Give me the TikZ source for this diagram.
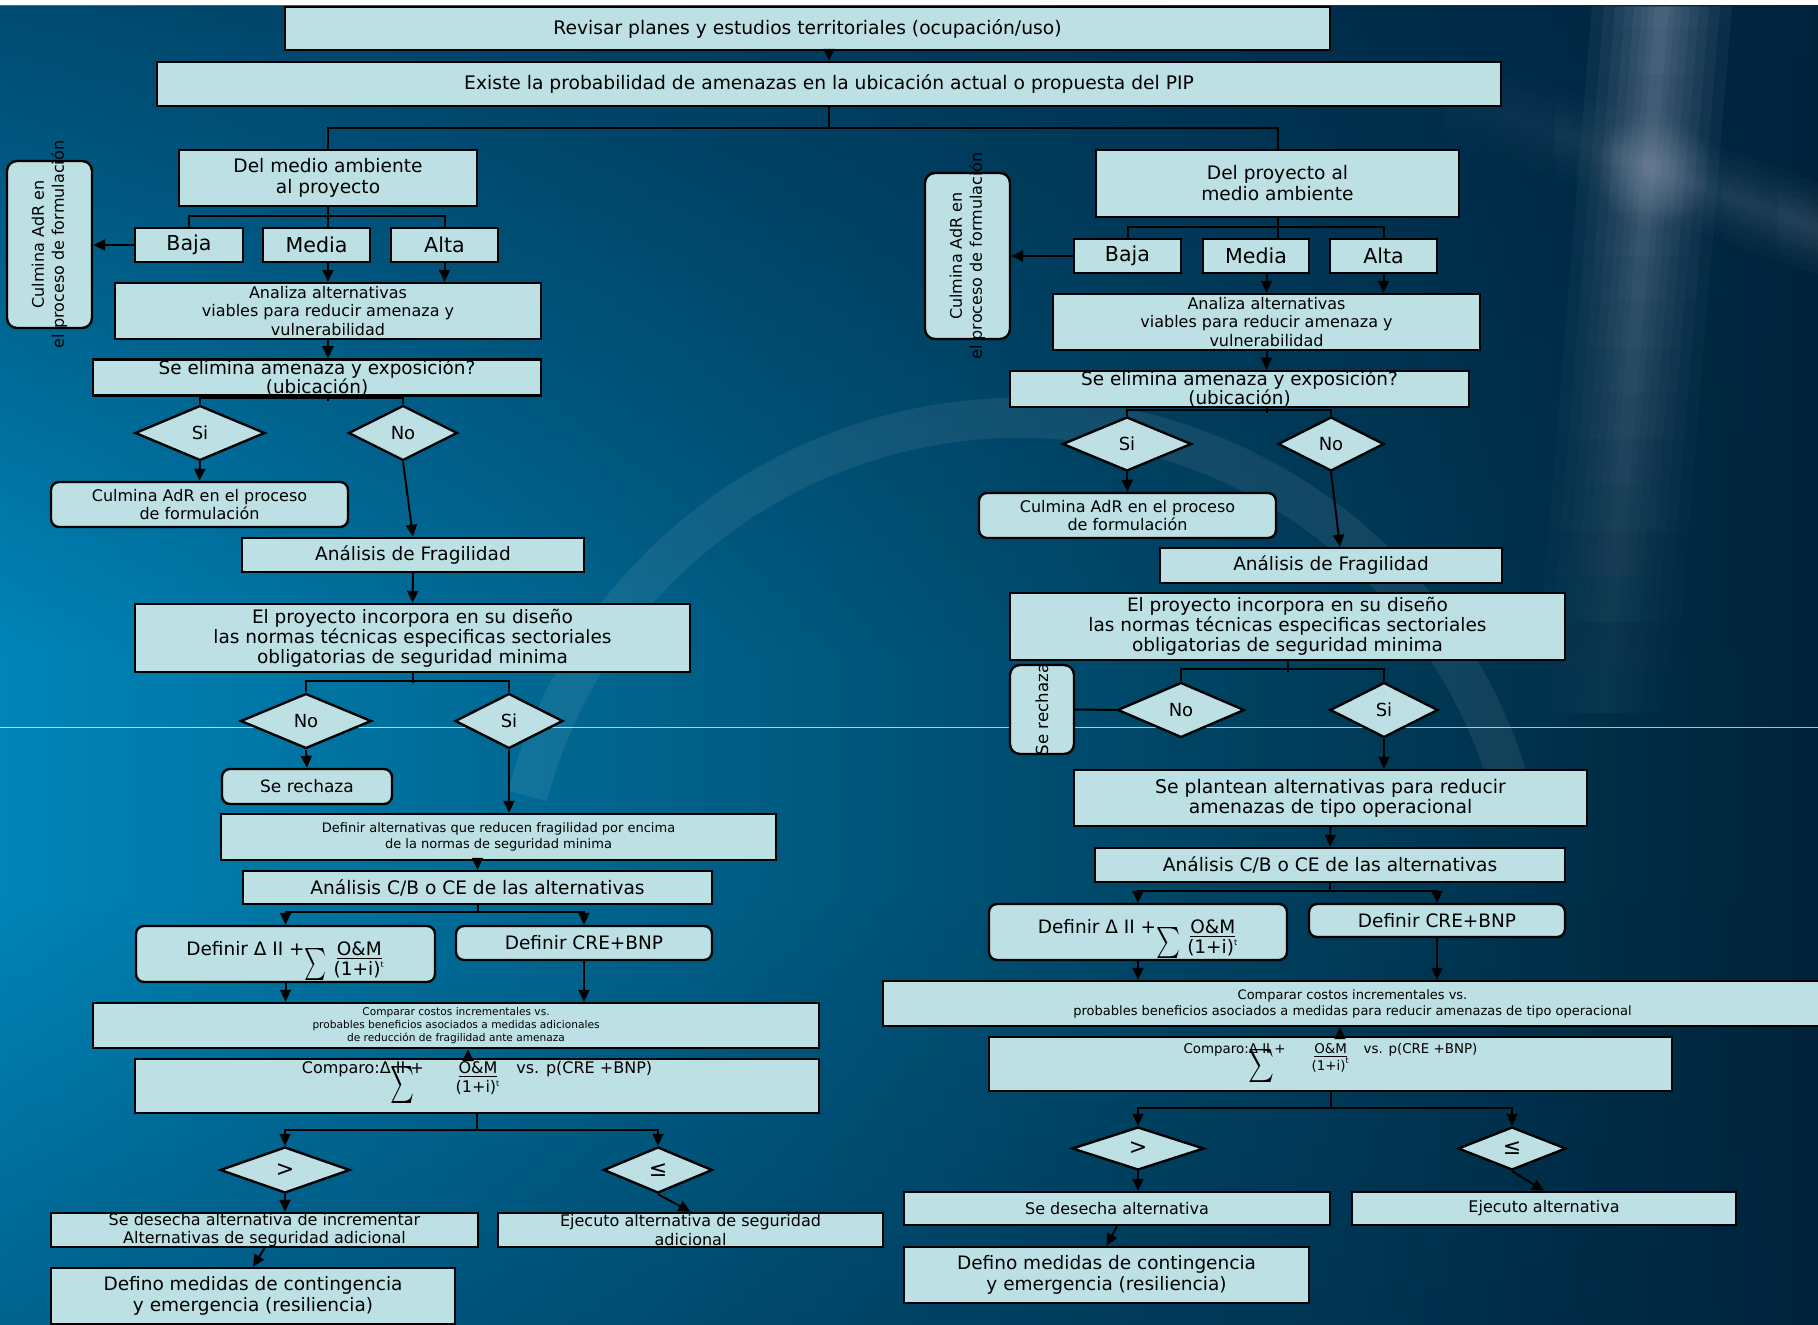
\documentclass[tikz,border=0pt]{standalone}
\usepackage{fontspec}
\setmainfont{DejaVu Sans}
\usepackage{graphicx}
\usetikzlibrary{shapes.geometric,arrows.meta,fadings}
\definecolor{cajafill}{RGB}{189,224,228}
\definecolor{fondoL}{RGB}{0,133,184}
\definecolor{fondoR}{RGB}{0,34,56}
\definecolor{fondoT}{RGB}{0,36,66}
\definecolor{brillo}{RGB}{175,185,205}
\tikzfading[name=fadeS, top color=transparent!0, bottom color=transparent!100]
\tikzfading[name=fadeN, top color=transparent!100, bottom color=transparent!0]
\tikzfading[name=fadeH, left color=transparent!100, middle color=transparent!0, right color=transparent!45]
\tikzfading[name=fadeR, inner color=transparent!0, outer color=transparent!100]
\tikzset{
  fs/.style 2 args={font=\fontsize{#1}{#2}\selectfont},
  caja/.style={draw=black, line width=1.2pt, fill=cajafill, inner xsep=2pt, inner ysep=0pt,
    align=center, fs={9.25}{10}},
  cajar/.style={caja, rounded corners=4pt},
  rombo/.style={diamond, draw=black, line width=1.2pt, fill=cajafill, inner sep=0pt, fs={9}{10}},
  vert/.style={rotate=90, align=center, inner sep=0pt},
  linea/.style={draw=black, line width=1pt},
  flecha/.style={linea, -{Triangle[length=6pt,width=5.5pt]}},
}
% sumatoria: ancho, alto, desplazamiento
\newcommand{\sigm}[3]{\raisebox{#3}[0pt][0pt]{\resizebox*{#1}{#2}{$\sum$}}}
\newcommand{\frOM}{\begin{tabular}[t]{@{}c@{}}\underline{O\&M}\\(1+i)\textsuperscript{\fontsize{4}{4}\selectfont t}\end{tabular}}

\begin{document}
\begin{tikzpicture}[x=0.5pt, y=-0.5pt]
\useasboundingbox (0,0) rectangle (1818,1325);
% fondo
\fill[white] (0,0) rectangle (1818,1325);
\shade[left color=fondoL, right color=fondoR] (0,6) rectangle (1818,1325);
\fill[fondoT, opacity=.6, path fading=fadeS] (0,6) rectangle (1818,650);
\fill[fondoT, opacity=.35, path fading=fadeN] (0,900) rectangle (1818,1325);
% brillo en cruz
\foreach \w in {70,58,47,37,28,20,13,7}
  \fill[brillo, opacity=.065, path fading=fadeS] (1662-\w,6) -- (1662+\w,6) -- (1598+\w,780) -- (1598-\w,780) -- cycle;
\foreach \t in {46,38,30,23,17,11,6}
  \fill[brillo, opacity=.06, path fading=fadeH] (1360,60-\t) -- (1818,229-\t) -- (1818,229+\t) -- (1360,60+\t) -- cycle;
\fill[brillo, opacity=.3, path fading=fadeR] (1653,170) circle (60);
\draw[white, opacity=.07, line width=20pt] (1020,928) ++(-165:510) arc (-165:-15:510);
\draw[white, opacity=.7, line width=.4pt] (0,727) -- (1818,727);

% arriba
\node[caja, fs={9.35}{10}, minimum width=522.5pt, minimum height=21.5pt] (rev) at (807.5,28.5) {Revisar planes y estudios territoriales (ocupación/uso)};
\node[caja, fs={9.35}{10}, minimum width=672pt, minimum height=22pt] (exi) at (829,84) {Existe la probabilidad de amenazas en la ubicación actual o propuesta del PIP};
\node[caja, fs={9.3}{10.5}, minimum width=149pt, minimum height=28pt] (dma) at (328,178) {Del medio ambiente\\al proyecto};
\node[caja, fs={9.3}{10.5}, minimum width=181.5pt, minimum height=33.5pt] (dpm) at (1277.5,183.5) {Del proyecto al\\medio ambiente};
\coordinate (j0) at (829,128);
\draw[flecha] (rev.south -| exi.north) -- (exi.north);
\draw[linea] (exi.south) -- (j0);
\draw[linea] (dma.north) |- (j0) -| (dpm.north);

% medio ambiente -> proyecto
\node[caja, fs={10.3}{11}, minimum width=54pt, minimum height=17pt] (bajaA) at (189,245) {Baja};
\node[caja, fs={10.3}{11}, minimum width=53.5pt, minimum height=17pt] (mediaA) at (316.5,245) {Media};
\node[caja, fs={10.3}{11}, minimum width=53.5pt, minimum height=17pt] (altaA) at (444.5,245) {Alta};
\node[cajar, rounded corners=5pt, minimum width=42.5pt, minimum height=83.5pt] (culA) at (49.5,244.5) {};
\node[vert, fs={8}{10}] (culAt) at (culA) {Culmina AdR en\\el proceso de formulación};
\node[caja, fs={8}{9.3}, minimum width=213pt, minimum height=28pt] (anaA) at (328,311) {Analiza alternativas\\viables para reducir amenaza y\\vulnerabilidad};
\node[caja, fs={9.2}{9.5}, minimum width=224pt, minimum height=17.5pt] (eliA) at (317,377.5) {Se elimina amenaza y exposición?\\(ubicación)};
\node[rombo, minimum width=65pt, minimum height=27.5pt] (siA) at (200,433) {Si};
\node[rombo, minimum width=54.5pt, minimum height=27.5pt] (noA) at (403,433) {No};
\node[cajar, fs={8}{9.3}, minimum width=148.5pt, minimum height=22.5pt] (culA2) at (199.5,504.5) {Culmina AdR en el proceso\\de formulación};
\node[caja, minimum width=171pt, minimum height=17pt] (fraA) at (413,555) {Análisis de Fragilidad};
\node[caja, minimum width=277.5pt, minimum height=34pt] (incA) at (412.5,638) {El proyecto incorpora en su diseño\\las normas técnicas especificas sectoriales\\obligatorias de seguridad minima};
\node[rombo, minimum width=65.5pt, minimum height=27.5pt] (noA2) at (306,721) {No};
\node[rombo, minimum width=54pt, minimum height=27.5pt] (siA2) at (509,721) {Si};
\node[cajar, fs={8.5}{10}, minimum width=85pt, minimum height=17.5pt] (recA) at (307,786.5) {Se rechaza};
\node[caja, fs={6.5}{8}, minimum width=277.5pt, minimum height=23pt] (defA) at (498.5,837) {Definir alternativas que reducen fragilidad por encima\\de la normas de seguridad minima};
\node[caja, fs={9.3}{10}, minimum width=234.5pt, minimum height=16.5pt] (cbA) at (477.5,887.5) {Análisis C/B o CE de las alternativas};
\node[cajar, text height=8pt, text depth=7pt, minimum width=149.5pt, minimum height=28pt] (dtA) at (285.5,954) {Definir Δ II +\sigm{11pt}{16pt}{-8.5pt}\hspace{3.5pt}\frOM};
\node[cajar, minimum width=128pt, minimum height=17pt] (creA) at (584,943) {Definir CRE+BNP};
\node[caja, fs={5.3}{6.5}, minimum width=363pt, minimum height=22.5pt] (cmpA) at (456,1025.5) {Comparar costos incrementales vs.\\probables beneficios asociados a medidas adicionales\\de reducción de fragilidad ante amenaza};
\node[caja, fs={8}{9.5}, text height=7pt, text depth=20pt, minimum width=342pt, minimum height=27pt] (cpoA) at (477,1086) {Comparo:Δ\rlap{\sigm{12pt}{18.5pt}{-9.9pt}} II +\hspace{16pt}\frOM\hspace{8pt}vs. p(CRE +BNP)};
\node[rombo, fs={11}{12}, minimum width=65pt, minimum height=23pt] (gtA) at (285,1170) {>};
\node[rombo, fs={11}{12}, minimum width=54.5pt, minimum height=23pt] (leA) at (658,1170) {≤};
\node[caja, fs={8}{9.3}, minimum width=213.5pt, minimum height=17pt] (desA) at (264.5,1230) {Se desecha alternativa de incrementar\\Alternativas de seguridad adicional};
\node[caja, fs={8}{9.3}, minimum width=192.5pt, minimum height=17pt] (ejeA) at (690.5,1230) {Ejecuto alternativa de seguridad\\adicional};
\node[caja, fs={9.25}{10.5}, minimum width=202pt, minimum height=28pt] (conA) at (253,1296) {Defino medidas de contingencia\\y emergencia (resiliencia)};

\draw[linea] (dma.south) -- (dma.south |- mediaA.north);
\draw[linea] (bajaA.north) -- ++(0,-11) -| (altaA.north);
\draw[flecha] (bajaA.west) -- (bajaA.west -| culA.east);
\draw[flecha] (mediaA.south -| anaA.north) -- (anaA.north);
\draw[flecha] (altaA.south) -- (altaA.south |- anaA.north);
\draw[flecha] (anaA.south) -- (anaA.south |- eliA.north);
\draw[linea] (anaA.south |- eliA.south) -- ++(0,4);
\draw[linea] (siA.north) -- ++(0,-6) -| (noA.north);
\draw[flecha] (siA.south) -- (culA2.north);
\draw[flecha] (noA.south) -- (fraA.north);
\draw[flecha] (fraA.south) -- (incA.north);
\draw[linea] (incA.south) -- ++(0,10);
\draw[linea] (noA2.north) -- ++(0,-11) -| (siA2.north);
\draw[flecha] (noA2.south) -- (recA.north);
\draw[flecha] (siA2.south) -- (siA2.south |- defA.north);
\draw[flecha] (cbA.north |- defA.south) -- (cbA.north);
\coordinate (jA2) at (477.5,912);
\draw[linea] (cbA.south) -- (jA2);
\draw[flecha] (jA2) -| (dtA.north);
\draw[flecha] (jA2) -| (creA.north);
\draw[flecha] (dtA.south) -- (dtA.south |- cmpA.north);
\draw[flecha] (creA.south) -- (creA.south |- cmpA.north);
\coordinate (aA) at ([xshift=-4.5pt]cpoA.north);
\draw[flecha] (aA) -- (aA |- cmpA.south);
\coordinate (jA3) at (477,1130);
\draw[linea] (cpoA.south) -- (jA3);
\draw[flecha] (jA3) -| (gtA.north);
\draw[flecha] (jA3) -| (leA.north);
\draw[flecha] (gtA.south) -- (gtA.south |- desA.north);
\draw[flecha] (leA.south) -- (ejeA.north);
\draw[flecha] (desA.south) -- (conA.north);

% proyecto -> medio ambiente
\node[caja, fs={10.3}{11}, minimum width=53.5pt, minimum height=17pt] (bajaB) at (1127.5,256) {Baja};
\node[caja, fs={10.3}{11}, minimum width=53pt, minimum height=17pt] (mediaB) at (1256,256) {Media};
\node[caja, fs={10.3}{11}, minimum width=53.5pt, minimum height=17pt] (altaB) at (1383.5,256) {Alta};
\node[cajar, rounded corners=5pt, minimum width=42.5pt, minimum height=83pt] (culB) at (967.5,256) {};
\node[vert, fs={8}{10}] (culBt) at (culB) {Culmina AdR en\\el proceso de formulación};
\node[caja, fs={8}{9.3}, minimum width=213.5pt, minimum height=28pt] (anaB) at (1266.5,322) {Analiza alternativas\\viables para reducir amenaza y\\vulnerabilidad};
\node[caja, fs={9.2}{9.5}, minimum width=229.5pt, minimum height=17pt] (eliB) at (1239.5,389) {Se elimina amenaza y exposición?\\(ubicación)};
\node[rombo, minimum width=64.5pt, minimum height=27pt] (siB) at (1127,444) {Si};
\node[rombo, minimum width=53pt, minimum height=27pt] (noB) at (1331,444) {No};
\node[cajar, fs={8}{9.3}, minimum width=148.5pt, minimum height=22.5pt] (culB2) at (1127.5,515.5) {Culmina AdR en el proceso\\de formulación};
\node[caja, minimum width=171pt, minimum height=17.5pt] (fraB) at (1331,565.5) {Análisis de Fragilidad};
\node[caja, minimum width=277.5pt, minimum height=33.5pt] (incB) at (1287.5,626.5) {El proyecto incorpora en su diseño\\las normas técnicas especificas sectoriales\\obligatorias de seguridad minima};
\node[rombo, minimum width=63.5pt, minimum height=27.5pt] (noB2) at (1181,710) {No};
\node[rombo, minimum width=54pt, minimum height=27.5pt] (siB2) at (1384,710) {Si};
\node[cajar, rounded corners=5pt, minimum width=32pt, minimum height=44.5pt] (recB) at (1042,709.5) {};
\node[vert, fs={8.3}{10}] (recBt) at (recB) {Se rechaza};
\node[caja, fs={9.4}{10}, minimum width=256.5pt, minimum height=28pt] (plaB) at (1330.5,798) {Se plantean alternativas para reducir\\amenazas de tipo operacional};
\node[caja, fs={9.3}{10}, minimum width=235pt, minimum height=17pt] (cbB) at (1330,865) {Análisis C/B o CE de las alternativas};
\node[cajar, text height=8pt, text depth=7pt, minimum width=149pt, minimum height=28pt] (dtB) at (1138,932) {Definir Δ II +\sigm{12pt}{15.5pt}{-8.6pt}\hspace{3.5pt}\frOM};
\node[cajar, minimum width=128pt, minimum height=16.5pt] (creB) at (1437,920.5) {Definir CRE+BNP};
\node[caja, fs={6.5}{8}, minimum width=469.5pt, minimum height=22.5pt] (cmpB) at (1352.5,1003.5) {Comparar costos incrementales vs.\\probables beneficios asociados a medidas para reducir amenazas de tipo operacional};
\node[caja, fs={6.7}{8.5}, text height=6pt, text depth=17pt, minimum width=341.5pt, minimum height=27pt] (cpoB) at (1330.5,1064) {Comparo:\rlap{\sigm{13pt}{16.5pt}{-9.4pt}}Δ II +\hspace{13pt}\frOM\hspace{7pt}vs. p(CRE +BNP)};
\node[rombo, fs={11}{12}, minimum width=66pt, minimum height=21.5pt] (gtB) at (1138,1148.5) {>};
\node[rombo, fs={11}{12}, minimum width=54pt, minimum height=21.5pt] (leB) at (1512,1148.5) {≤};
\node[caja, fs={8}{9.3}, minimum width=213pt, minimum height=16.5pt] (desB) at (1117,1208.5) {Se desecha alternativa};
\node[caja, fs={8}{9.3}, minimum width=192pt, minimum height=16.5pt] (ejeB) at (1544,1208.5) {Ejecuto alternativa};
\node[caja, fs={9.25}{10.5}, minimum width=202.5pt, minimum height=28pt] (conB) at (1106.5,1275) {Defino medidas de contingencia\\y emergencia (resiliencia)};

\draw[linea] (dpm.south) -- (dpm.south |- mediaB.north);
\draw[linea] (bajaB.north) -- ++(0,-11) -| (altaB.north);
\draw[flecha] (bajaB.west) -- (bajaB.west -| culB.east);
\draw[flecha] (mediaB.south -| anaB.north) -- (anaB.north);
\draw[flecha] (altaB.south) -- (altaB.south |- anaB.north);
\draw[flecha] (anaB.south) -- (anaB.south |- eliB.north);
\draw[linea] (anaB.south |- eliB.south) -- ++(0,5);
\draw[linea] (siB.north) -- ++(0,-6) -| (noB.north);
\draw[flecha] (siB.south) -- (culB2.north);
\coordinate (fB) at ([xshift=4.5pt]fraB.north);
\draw[flecha] (noB.south) -- (fB);
\draw[linea] (incB.south) -- ++(0,11);
\draw[linea] (noB2.north) -- ++(0,-12) -| (siB2.north);
\draw[linea] (noB2.west) -- (recB.east);
\draw[flecha] (siB2.south) -- (siB2.south |- plaB.north);
\draw[flecha] (plaB.south) -- (cbB.north);
\coordinate (jB2) at (1330,891);
\draw[linea] (cbB.south) -- (jB2);
\draw[flecha] (jB2) -| (dtB.north);
\draw[flecha] (jB2) -| (creB.north);
\draw[flecha] (dtB.south) -- (dtB.south |- cmpB.north);
\draw[flecha] (creB.south) -- (creB.south |- cmpB.north);
\coordinate (aB) at ([xshift=4.75pt]cpoB.north);
\draw[flecha] (aB) -- (aB |- cmpB.south);
\coordinate (jB3) at (1330.5,1108);
\draw[linea] (cpoB.south) -- (jB3);
\draw[flecha] (jB3) -| (gtB.north);
\draw[flecha] (jB3) -| (leB.north);
\draw[flecha] (gtB.south) -- (gtB.south |- desB.north);
\draw[flecha] (leB.south) -- (ejeB.north);
\draw[flecha] (desB.south) -- (conB.north);
\end{tikzpicture}
\end{document}
